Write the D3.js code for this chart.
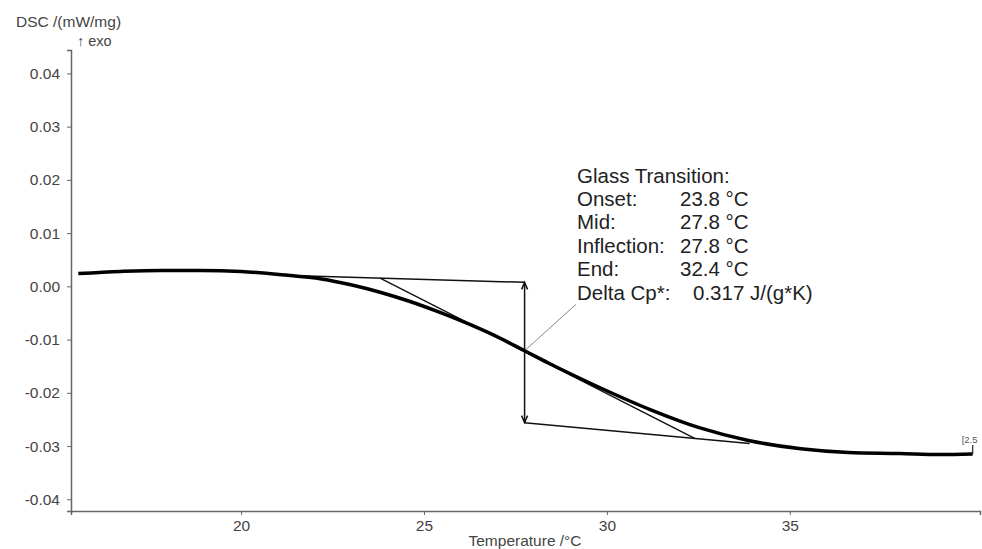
<!DOCTYPE html>
<html>
<head>
<meta charset="utf-8">
<script src="https://cdn.jsdelivr.net/npm/d3@7"></script>
<style>
  body { margin: 0; background: #fff; }
  svg { display: block; font-family: "Liberation Sans", Arial, sans-serif; }
</style>
</head>
<body>
<div id="chart"></div>
<script>
// DSC curve (temperature in °C, DSC in mW/mg)
const temps = [15.55, 16.7, 17.8, 18.9, 20.0, 21.1, 22.2, 23.0, 23.8, 24.6, 25.4, 26.3, 27.1, 27.75,
               28.4, 29.8, 31.2, 32.5, 33.9, 35.3, 36.6, 38.0, 39.1, 40.0];
const dsc = [0.0024, 0.0028, 0.0030, 0.0030, 0.0028, 0.0022, 0.0014, 0.0003, -0.0011, -0.0028, -0.0048,
             -0.0073, -0.0098, -0.0121, -0.0144, -0.0190, -0.0232, -0.0265, -0.0290, -0.0305, -0.0312,
             -0.0314, -0.0316, -0.0315];

const xTicks = [20, 25, 30, 35];
const xMinor = d3.range(16, 41, 1);
const yTicks = [0.04, 0.03, 0.02, 0.01, 0.00, -0.01, -0.02, -0.03, -0.04];
const yMinor = d3.range(-42, 45, 2).map(d => d / 1000);

// glass transition construction lines
const upperBase = [[21.6, 0.0020], [27.75, 0.00075]];
const tangent = [[23.8, 0.00155], [32.4, -0.02855]];
const lowerBase = [[27.75, -0.0256], [33.9, -0.0295]];
const stepT = 27.75;
const leader = [[27.75, -0.0121], [29.15, -0.0034]];

const annotTitle = "Glass Transition:";
const annotLabels = ["Onset:", "Mid:", "Inflection:", "End:", "Delta Cp*:"];
const annotValues = ["23.8 °C", "27.8 °C", "27.8 °C", "32.4 °C", "0.317 J/(g*K)"];

const width = 982, height = 549;

const x = d3.scaleLinear().domain([15.35, 40.2]).range([71, 980]);
const y = d3.scaleLinear().domain([-0.0422, 0.0444]).range([511, 50]);

const svg = d3.select("#chart").append("svg")
    .attr("width", width)
    .attr("height", height);

const axisColor = "#666";
const textColor = "#444";
const fmtY = d => d3.format(".2f")(d).replace("−", "-");

// x axis
const xAxis = svg.append("g").attr("transform", `translate(0,${y.range()[0]})`);
xAxis.call(d3.axisBottom(x).tickValues(xMinor).tickSize(3).tickFormat(""));
xAxis.call(d3.axisBottom(x).tickValues(xTicks).tickSize(4).tickPadding(5).tickFormat(d3.format("d")));
xAxis.selectAll(".domain").attr("stroke", axisColor).attr("stroke-width", 1.5);
xAxis.selectAll(".tick line").attr("stroke", axisColor);
xAxis.selectAll("text").attr("fill", textColor).attr("font-size", 15.5)
    .attr("font-family", "Liberation Sans, Arial, sans-serif");

// y axis
const yAxis = svg.append("g").attr("transform", `translate(${x.range()[0]},0)`);
yAxis.call(d3.axisLeft(y).tickValues(yMinor).tickSize(2).tickFormat(""));
yAxis.call(d3.axisLeft(y).tickValues(yTicks).tickSize(4).tickPadding(7).tickFormat(fmtY));
yAxis.selectAll(".domain").attr("stroke", axisColor).attr("stroke-width", 1.5);
yAxis.selectAll(".tick line").attr("stroke", axisColor);
yAxis.selectAll("text").attr("fill", textColor).attr("font-size", 15.5)
    .attr("font-family", "Liberation Sans, Arial, sans-serif");

// axis titles
svg.append("text").attr("x", 16).attr("y", 27).attr("fill", textColor)
    .attr("font-size", 15.5).text("DSC /(mW/mg)");
svg.append("text").attr("x", 77).attr("y", 46).attr("fill", textColor)
    .attr("font-size", 14.5).text("↑ exo");
svg.append("text").attr("x", 525).attr("y", 546).attr("fill", textColor)
    .attr("text-anchor", "middle").attr("font-size", 15.5).text("Temperature /°C");

const line = d3.line().x(d => x(d[0])).y(d => y(d[1]));

// construction lines
const cons = svg.append("g").attr("fill", "none").attr("stroke", "#111").attr("stroke-width", 1.5);
[upperBase, tangent, lowerBase].forEach(seg => cons.append("path").attr("d", line(seg)));

// step double arrow
const xs = x(stepT), yTop = y(upperBase[1][1]), yBot = y(lowerBase[0][1]);
cons.append("path").attr("d", `M${xs},${yTop}V${yBot}`);
cons.append("path").attr("d", `M${xs - 3},${yTop + 7}L${xs},${yTop}L${xs + 3},${yTop + 7}`);
cons.append("path").attr("d", `M${xs - 3},${yBot - 7}L${xs},${yBot}L${xs + 3},${yBot - 7}`);

// leader line to the annotation
svg.append("path").attr("d", line(leader)).attr("stroke", "#888").attr("stroke-width", 1).attr("fill", "none");

// DSC curve
const data = temps.map((t, i) => [t, dsc[i]]);
svg.append("path")
    .datum(data)
    .attr("fill", "none")
    .attr("stroke", "#000")
    .attr("stroke-width", 3.5)
    .attr("stroke-linejoin", "round")
    .attr("d", d3.line().x(d => x(d[0])).y(d => y(d[1])).curve(d3.curveMonotoneX));

// end marker
const last = data[data.length - 1];
svg.append("path").attr("d", `M${x(last[0])},${y(last[1])}V${y(last[1]) - 9}`)
    .attr("stroke", "#222").attr("stroke-width", 1.2);
svg.append("text").attr("x", x(last[0]) - 11).attr("y", y(last[1]) - 11)
    .attr("font-size", 9.5).attr("fill", "#555").text("[2.5");

// annotation block
const ann = svg.append("g").attr("fill", "#222").attr("font-size", 20.5);
const ax = 577, ay = 182.5, dyLine = 23.4;
ann.append("text").attr("x", ax).attr("y", ay).text(annotTitle);
annotLabels.forEach((lab, i) => {
    ann.append("text").attr("x", ax).attr("y", ay + (i + 1) * dyLine).text(lab);
    ann.append("text").attr("x", i === 4 ? 693 : 680).attr("y", ay + (i + 1) * dyLine).text(annotValues[i]);
});
</script>
</body>
</html>
